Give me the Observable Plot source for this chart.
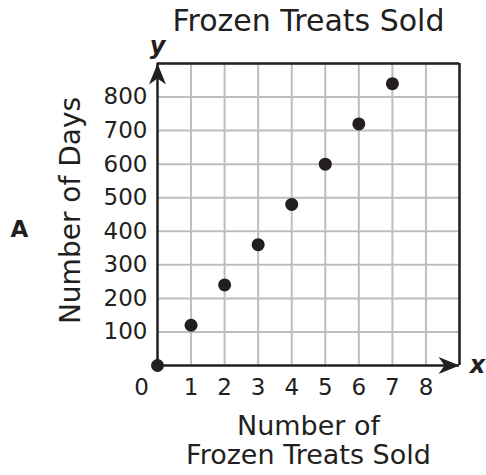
<!DOCTYPE html>
<html>
<head>
<meta charset="utf-8">
<script src="https://cdn.jsdelivr.net/npm/d3@7"></script>
<script src="https://cdn.jsdelivr.net/npm/@observablehq/plot@0.6"></script>
<style>
  html, body { margin: 0; padding: 0; background: #fff; }
  #chart svg { display: block; }
</style>
</head>
<body>
<div id="chart"></div>
<script>
// Data
const treats = [0, 1, 2, 3, 4, 5, 6, 7];
const days = [0, 120, 240, 360, 480, 600, 720, 840];
const xTickValues = [1, 2, 3, 4, 5, 6, 7, 8];
const yTickValues = [100, 200, 300, 400, 500, 600, 700, 800];
const xGrid = [1, 2, 3, 4, 5, 6, 7, 8, 9];
const yGrid = [100, 200, 300, 400, 500, 600, 700, 800, 900];
const title = "Frozen Treats Sold";
const yLabel = "Number of Days";
const xLabelLines = ["Number of", "Frozen Treats Sold"];
const optionLetter = "A";

const points = treats.map((t, i) => ({x: t, y: days[i]}));
const ink = "#231f20";
const gridColor = "#bcbec0";

// notched arrowhead pointing up, tip at origin
const arrowHead = {
  draw(context, size) {
    const L = 21, w = 8.5, n = 15;
    context.moveTo(0, 0);
    context.lineTo(w, L);
    context.lineTo(0, n);
    context.lineTo(-w, L);
    context.closePath();
  }
};

const font = "DejaVu Sans, Verdana, sans-serif";

const chart = Plot.plot({
  width: 486,
  height: 475,
  marginLeft: 157,
  marginRight: 27,
  marginTop: 63,
  marginBottom: 110,
  x: {domain: [0, 9], axis: null},
  y: {domain: [0, 900], axis: null},
  style: {fontFamily: font, color: ink, background: "#fff", overflow: "visible"},
  marks: [
    Plot.gridX(xGrid, {stroke: gridColor, strokeOpacity: 1, strokeWidth: 2}),
    Plot.gridY(yGrid, {stroke: gridColor, strokeOpacity: 1, strokeWidth: 2}),
    Plot.ruleY([900], {stroke: ink, strokeWidth: 2.5}),
    Plot.ruleX([9], {stroke: ink, strokeWidth: 2.5}),
    Plot.ruleX([0], {stroke: ink, strokeWidth: 2.5}),
    Plot.ruleY([0], {stroke: ink, strokeWidth: 2.5}),
    Plot.dot([{x: 0, y: 900}], {x: "x", y: "y", symbol: arrowHead, r: 10, fill: ink, stroke: "none"}),
    Plot.dot([{x: 9, y: 0}], {x: "x", y: "y", symbol: arrowHead, r: 10, fill: ink, stroke: "none", rotate: 90}),
    Plot.dot(points, {x: "x", y: "y", r: 6.5, fill: ink, stroke: "none"}),
    // y tick labels
    Plot.text(yTickValues, {x: 0, y: d => d, text: d => String(d), textAnchor: "end", dx: -10, fontSize: 23, fill: ink}),
    // x tick labels
    Plot.text(xTickValues, {x: d => d, y: 0, text: d => String(d), dy: 22, fontSize: 23, fill: ink}),
    Plot.text(["0"], {x: 0, y: 0, text: d => d, dx: -16, dy: 22, fontSize: 23, fill: ink}),
    // axis variable letters
    Plot.text(["y"], {x: 0, y: 900, text: d => d, dy: -17, fontSize: 24, fontWeight: "bold", fontStyle: "italic", fill: ink}),
    Plot.text(["x"], {x: 9, y: 0, text: d => d, dx: 18, dy: 0, fontSize: 24, fontWeight: "bold", fontStyle: "italic", fill: ink}),
    // title
    Plot.text([title], {frameAnchor: "top", text: d => d, lineAnchor: "bottom", textAnchor: "middle", dy: -33, fontSize: 30, fill: ink}),
    // y label
    Plot.text([yLabel], {frameAnchor: "left", text: d => d, rotate: -90, textAnchor: "middle", lineAnchor: "middle", dx: -86, dy: -4, fontSize: 28, fill: ink}),
    // x label
    Plot.text([xLabelLines.join("\n")], {frameAnchor: "bottom", text: d => d, textAnchor: "middle", lineAnchor: "bottom", dy: 98, fontSize: 27, lineHeight: 1.07, fill: ink}),
    // option letter
    Plot.text([optionLetter], {frameAnchor: "left", text: d => d, textAnchor: "middle", lineAnchor: "middle", dx: -138, dy: 15.5, fontSize: 23, fontWeight: "bold", fill: ink})
  ]
});

document.getElementById("chart").appendChild(chart);
</script>
</body>
</html>
